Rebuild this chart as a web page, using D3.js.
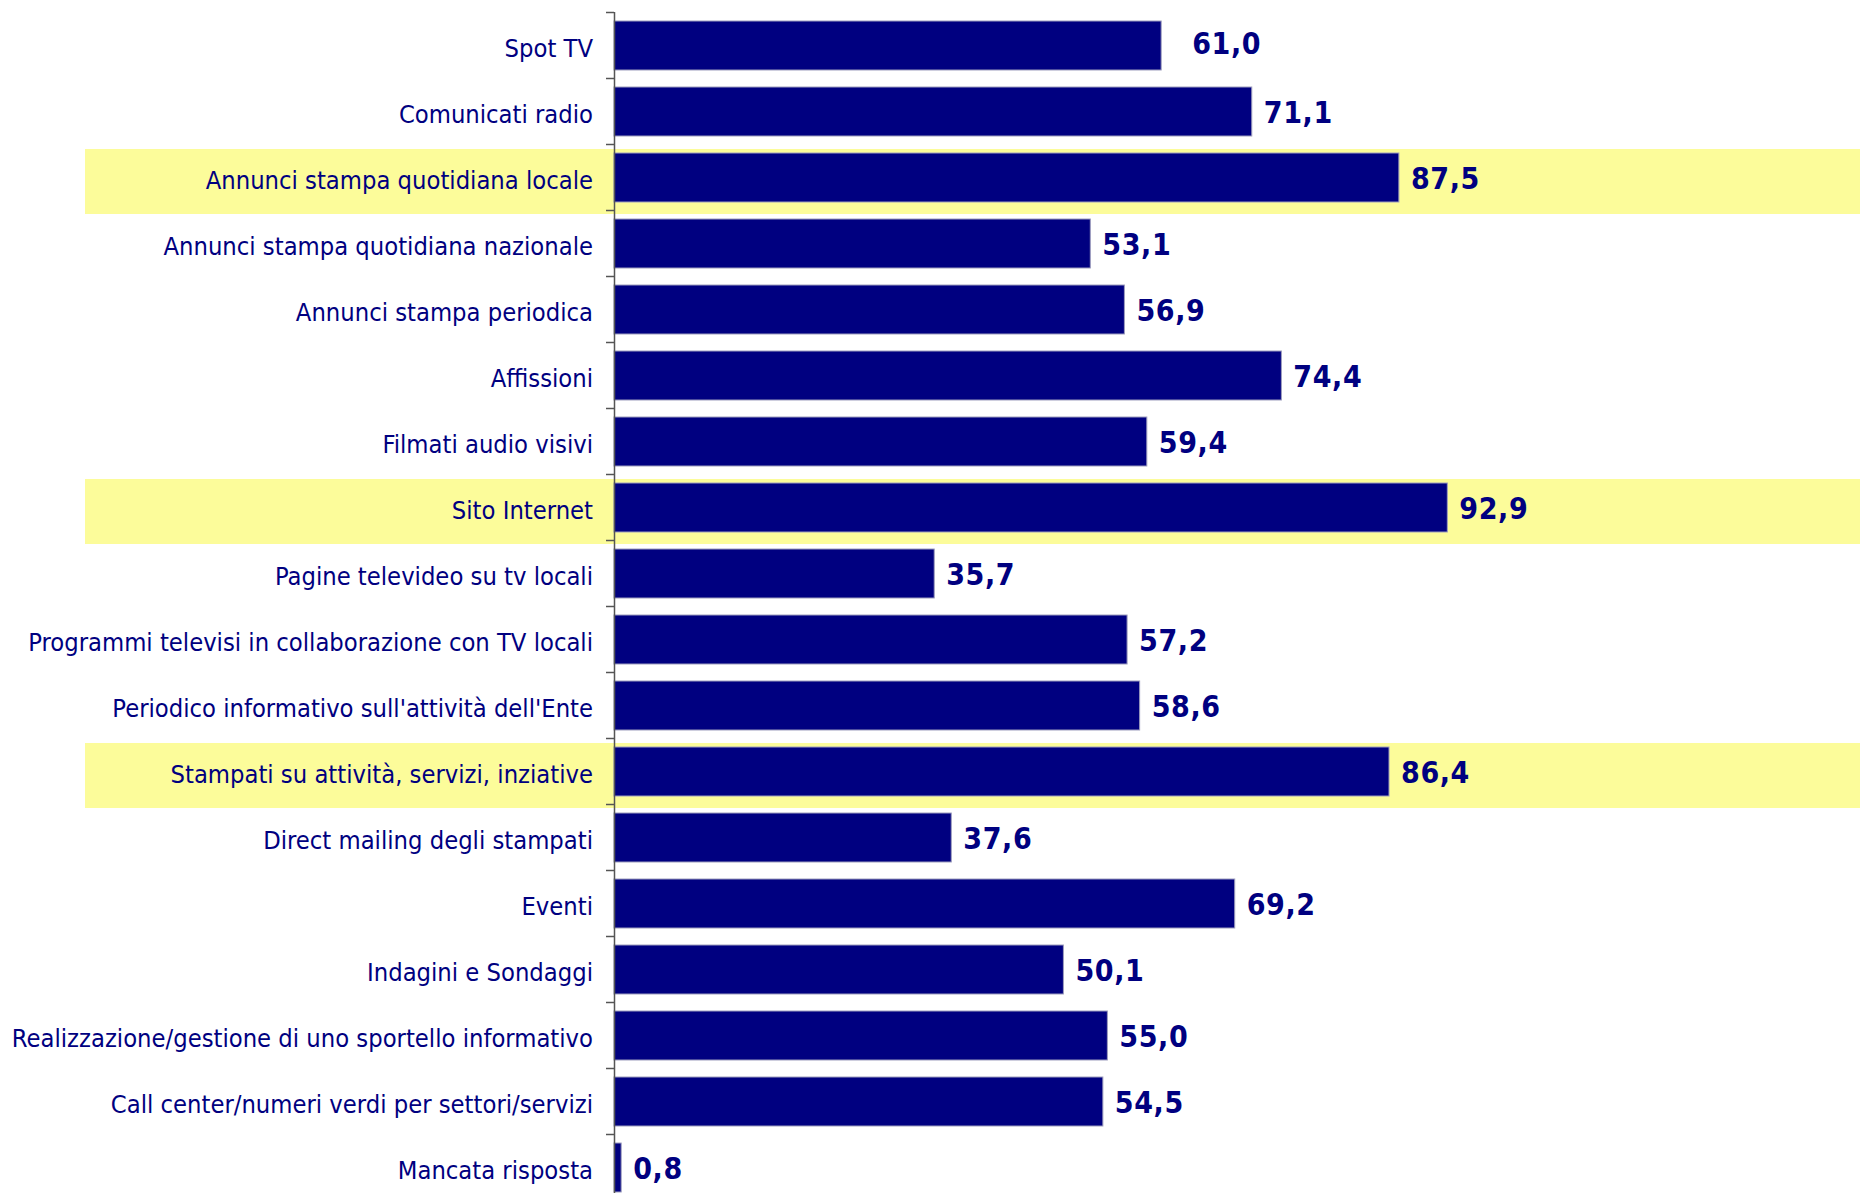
<!DOCTYPE html>
<html lang="it">
<head>
<meta charset="utf-8">
<script src="https://cdn.jsdelivr.net/npm/d3@7"></script>
<style>
  html, body { margin: 0; padding: 0; background: #ffffff; }
  svg { display: block; }
  .cat { font-family: "DejaVu Sans Condensed", "DejaVu Sans", sans-serif; font-stretch: condensed; font-size: 25.3px; fill: #000080; }
  .val { font-family: "DejaVu Sans Condensed", "DejaVu Sans", sans-serif; font-stretch: condensed; font-weight: bold; font-size: 30px; letter-spacing: 0.6px; fill: #000080; }
</style>
</head>
<body>
<script>
// Strumenti di comunicazione (% di enti che li utilizzano)
const categories = [
  "Spot TV",
  "Comunicati radio",
  "Annunci stampa quotidiana locale",
  "Annunci stampa quotidiana nazionale",
  "Annunci stampa periodica",
  "Affissioni",
  "Filmati audio visivi",
  "Sito Internet",
  "Pagine televideo su tv locali",
  "Programmi televisi in collaborazione con TV locali",
  "Periodico informativo sull'attività dell'Ente",
  "Stampati su attività, servizi, inziative",
  "Direct mailing degli stampati",
  "Eventi",
  "Indagini e Sondaggi",
  "Realizzazione/gestione di uno sportello informativo",
  "Call center/numeri verdi per settori/servizi",
  "Mancata risposta"
];
const values = [61.0, 71.1, 87.5, 53.1, 56.9, 74.4, 59.4, 92.9, 35.7, 57.2, 58.6, 86.4, 37.6, 69.2, 50.1, 55.0, 54.5, 0.8];
const highlighted = [
  "Annunci stampa quotidiana locale",
  "Sito Internet",
  "Stampati su attività, servizi, inziative"
];

const W = 1860, H = 1193;
const svg = d3.select("body").append("svg").attr("width", W).attr("height", H);

const axisX = 614;
const x = d3.scaleLinear().domain([0, 100]).range([axisX, axisX + 897]);
// one band per row, boundaries carry the tick marks
const y = d3.scaleBand().domain(categories).range([12, 12 + 66 * categories.length]);
const step = y.step();
const barInset = 9, barH = 49;

const fmt = v => d3.format(".1f")(v).replace(".", ",");

// highlighted rows
svg.append("g").selectAll("rect")
  .data(highlighted)
  .join("rect")
  .attr("x", 85)
  .attr("y", d => y(d) + 5)
  .attr("width", W - 85)
  .attr("height", step - 1)
  .attr("fill", "#fcfc9a");

// bars
svg.append("g").selectAll("rect")
  .data(categories)
  .join("rect")
  .attr("x", x(0))
  .attr("y", d => y(d) + barInset)
  .attr("width", (d, i) => x(values[i]) - x(0))
  .attr("height", barH)
  .attr("fill", "#000080")
  .attr("stroke", "#9d9dbd")
  .attr("stroke-width", 1);

// category axis: vertical line with ticks at row boundaries
const axis = svg.append("g");
const bounds = categories.map(c => y(c)).concat([y.range()[1]]);
axis.append("line")
  .attr("x1", axisX + 0.5).attr("x2", axisX + 0.5)
  .attr("y1", bounds[0]).attr("y2", bounds[bounds.length - 1])
  .attr("stroke", "#555555").attr("stroke-width", 1.5);
axis.selectAll("line.tick")
  .data(bounds)
  .join("line")
  .attr("class", "tick")
  .attr("x1", axisX - 8).attr("x2", axisX)
  .attr("y1", d => Math.round(d) + 0.5).attr("y2", d => Math.round(d) + 0.5)
  .attr("stroke", "#555555").attr("stroke-width", 1.5);

// category labels
svg.append("g").selectAll("text")
  .data(categories)
  .join("text")
  .attr("class", "cat")
  .attr("x", 593)
  .attr("y", d => y(d) + barInset + barH / 2 + 11)
  .attr("text-anchor", "end")
  .text(d => d);

// value labels (the Spot TV label sits a little further out)
const labelNudge = { "Spot TV": [19, -3] };
svg.append("g").selectAll("text")
  .data(categories)
  .join("text")
  .attr("class", "val")
  .attr("x", (d, i) => x(values[i]) + 12 + (labelNudge[d] ? labelNudge[d][0] : 0))
  .attr("y", d => y(d) + barInset + barH / 2 + 11 + (labelNudge[d] ? labelNudge[d][1] : 0))
  .text((d, i) => fmt(values[i]));
</script>
</body>
</html>
